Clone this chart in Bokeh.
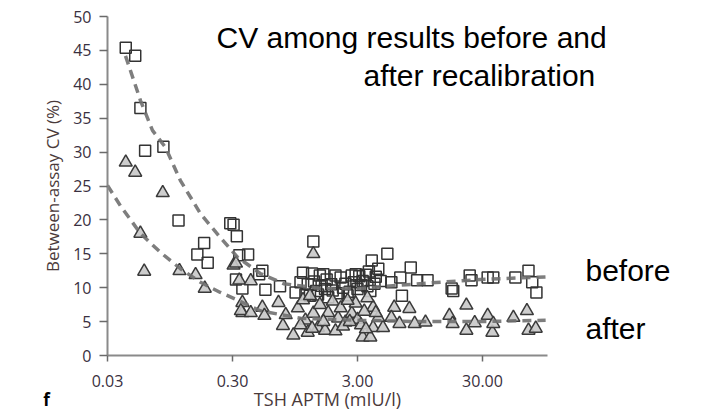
from bokeh.plotting import figure
from bokeh.models import Range1d, FixedTicker, CustomJSTickFormatter, Label
from bokeh.embed import file_html
from bokeh.resources import INLINE

# ---- data ----
before_x = [0.042, 0.050, 0.055, 0.060, 0.084, 0.111, 0.157, 0.178, 0.190,
            0.288, 0.306, 0.325, 0.34, 0.40, 0.32, 0.36, 0.52, 0.49, 0.55,
            0.72, 0.96, 1.10, 1.30, 1.33, 1.15, 1.25, 1.40, 1.50, 1.60, 1.65,
            1.75, 1.85, 2.0, 2.1, 2.3, 2.5, 2.7, 2.9, 3.1, 3.2, 3.5, 3.7,
            3.9, 4.2, 4.4, 4.6, 5.2, 5.6, 6.6, 6.8, 8.0, 9.0, 10.9, 17.0,
            17.5, 23.7, 24.5, 33.0, 36.6, 55.0, 70.0, 75.0, 81.0,
            1.05, 1.2, 1.35, 1.45, 1.55, 1.7, 1.9, 2.2, 2.4, 2.6, 2.8, 3.0,
            3.3, 3.6, 3.8, 4.1]
before_y = [45.4, 44.2, 36.5, 30.2, 30.8, 19.9, 14.9, 16.6, 13.7,
            19.5, 19.3, 17.6, 14.8, 14.9, 11.2, 9.9, 12.5, 12.0, 9.7,
            10.2, 9.3, 12.2, 12.1, 16.8, 9.0, 8.8, 9.5, 11.8, 12.0, 9.8,
            8.6, 10.5, 11.8, 9.2, 10.0, 8.9, 11.8, 12.0, 11.7, 10.4, 11.9, 12.4,
            14.0, 11.6, 12.8, 11.0, 15.0, 10.8, 11.5, 8.8, 13.0, 11.1, 11.1, 9.9,
            9.5, 11.8, 11.1, 11.5, 11.5, 11.5, 12.5, 10.8, 9.3,
            10.8, 10.5, 10.9, 9.0, 10.3, 11.2, 9.6, 11.5, 10.6, 9.4, 10.8, 9.8,
            11.0, 10.2, 9.5, 10.6]

after_x = [0.042, 0.050, 0.083, 0.055, 0.059, 0.113, 0.152, 0.18, 0.306, 0.32,
           0.36, 0.36, 0.34, 0.42, 0.35, 0.42, 0.52, 0.54, 0.70, 0.76,
           0.92, 1.15, 1.2, 1.45, 1.65, 1.33, 1.75, 2.4, 2.7, 2.9, 3.3, 3.8,
           4.0, 4.8, 4.4, 4.0, 5.9, 5.6, 6.5, 7.8, 8.6, 10.5, 16.3, 17.3,
           22.3, 22.3, 26.0, 33.0, 36.0, 36.6, 53.0, 68.0, 70.0, 80.0,
           1.33, 1.0, 1.1, 1.25, 1.5, 1.9, 2.1, 2.2, 2.5, 3.0, 3.4, 3.6,
           0.8, 1.05, 1.3, 1.6, 2.0, 2.3, 2.6, 3.2, 3.5, 4.2]
after_y = [28.5, 27.0, 24.0, 18.0, 12.4, 12.5, 11.9, 9.9, 13.3, 13.6,
           7.8, 6.3, 11.1, 11.0, 6.6, 6.3, 7.1, 5.9, 7.8, 4.4,
           3.0, 5.2, 3.4, 4.1, 3.7, 6.2, 6.3, 4.9, 6.2, 7.7, 2.7, 2.7,
           4.1, 4.1, 5.6, 7.1, 7.1, 5.6, 4.7, 6.9, 4.7, 4.9, 5.9, 4.7,
           7.4, 3.7, 4.8, 5.9, 3.4, 4.7, 5.6, 6.6, 3.7, 4.0,
           15.0, 7.0, 8.2, 8.8, 7.5, 8.0, 5.5, 7.0, 8.1, 5.3, 6.5, 8.5,
           6.0, 4.5, 4.0, 5.0, 3.6, 4.3, 5.0, 4.5, 3.9, 6.3]

fit_before_x = [0.0418, 0.0551, 0.0687, 0.0873, 0.115, 0.1666, 0.24, 0.329, 0.50,
                0.77, 1.52, 3.17, 9.5, 28.7, 96.0]
fit_before_y = [44.2, 37.6, 33.2, 30.7, 25.8, 20.9, 17.4, 14.5, 12.1,
                10.6, 9.9, 9.9, 10.6, 11.2, 11.6]
fit_after_x = [0.030, 0.038, 0.0551, 0.0797, 0.115, 0.1666, 0.24, 0.318, 0.50,
               1.05, 3.17, 9.5, 28.7, 96.0]
fit_after_y = [25.1, 22.1, 18.0, 15.2, 12.8, 10.8, 9.3, 8.3, 6.6,
               5.5, 5.2, 5.0, 5.0, 5.2]

x_ticks = [0.03, 0.3, 3, 30]
y_ticks = [0, 5, 10, 15, 20, 25, 30, 35, 40, 45, 50]
x_bounds = (0.03, 99.3)
y_bounds = (0, 50)

TICK_FONT = "Open Sans"
TEXT_FONT = "Liberation Sans"

# frame covers the whole canvas; axes are pinned with fixed_location
p = figure(width=723, height=413, x_axis_type="log",
           x_range=Range1d(0.00418, 2542), y_range=Range1d(-8.55, 52.36),
           output_backend="svg", toolbar_location=None,
           min_border_left=0, min_border_right=0,
           min_border_top=0, min_border_bottom=0)
p.outline_line_color = None
p.xgrid.visible = False
p.ygrid.visible = False
p.background_fill_color = "white"
p.border_fill_color = "white"

p.square(before_x, before_y, size=11, fill_color="white", fill_alpha=0.0,
         line_color="#333333", line_width=1.5)
p.triangle(after_x, after_y, size=13, fill_color="#c8c8c8", fill_alpha=0.9,
           line_color="#3a3a3a", line_width=1.5)

p.line(fit_before_x, fit_before_y, line_color="#707070", line_width=3.5,
       line_dash="9 6", line_alpha=0.9)
p.line(fit_after_x, fit_after_y, line_color="#707070", line_width=3.5,
       line_dash="9 6", line_alpha=0.9)

for ax in (p.xaxis[0], p.yaxis[0]):
    ax.axis_line_color = "#8a8a8a"
    ax.axis_line_width = 2
    ax.major_tick_line_color = "#6a6a6a"
    ax.major_tick_line_width = 1.5
    ax.minor_tick_line_color = None
    ax.major_label_text_font = TICK_FONT
    ax.major_label_text_font_size = "16px"
    ax.major_label_text_color = "#3a3040"
    ax.axis_label_text_font = TICK_FONT
    ax.axis_label_text_font_style = "normal"
    ax.axis_label_text_color = "#4a3a3a"

p.xaxis.fixed_location = 0
p.xaxis.bounds = x_bounds
p.xaxis.ticker = FixedTicker(ticks=x_ticks)
p.xaxis.formatter = CustomJSTickFormatter(code="return tick.toFixed(2);")
p.xaxis.major_tick_in = 0
p.xaxis.major_tick_out = 6
p.xaxis.major_label_standoff = 13
p.xaxis.axis_label = "TSH APTM (mIU/l)"
p.xaxis.axis_label_text_font_size = "18px"
p.xaxis.axis_label_standoff = -3

p.yaxis.fixed_location = 0.03
p.yaxis.bounds = y_bounds
p.yaxis.ticker = FixedTicker(ticks=y_ticks)
p.yaxis.major_tick_in = 0
p.yaxis.major_tick_out = 8
p.yaxis.major_label_standoff = 8
p.yaxis.axis_label = "Between-assay CV (%)"
p.yaxis.axis_label_text_font_size = "17px"
p.yaxis.axis_label_standoff = 6

p.add_layout(Label(x=0.2233, y=46.96, text="CV among results before and",
                   text_font=TEXT_FONT, text_font_size="30px",
                   text_align="left", text_baseline="middle", text_color="black"))
p.add_layout(Label(x=3.35, y=41.36, text="after recalibration",
                   text_font=TEXT_FONT, text_font_size="30px",
                   text_align="left", text_baseline="middle", text_color="black"))
p.add_layout(Label(x=200, y=12.6, text="before", text_font=TEXT_FONT,
                   text_font_size="30px", text_align="left",
                   text_baseline="middle", text_color="black"))
p.add_layout(Label(x=200, y=4.04, text="after", text_font=TEXT_FONT,
                   text_font_size="30px", text_align="left",
                   text_baseline="middle", text_color="black"))
p.add_layout(Label(x=0.00975, y=-6.5, text="f", text_font=TICK_FONT,
                   text_font_size="17px", text_font_style="bold",
                   text_align="center", text_baseline="middle", text_color="black"))

open("out.html", "w").write(file_html(p, INLINE))
